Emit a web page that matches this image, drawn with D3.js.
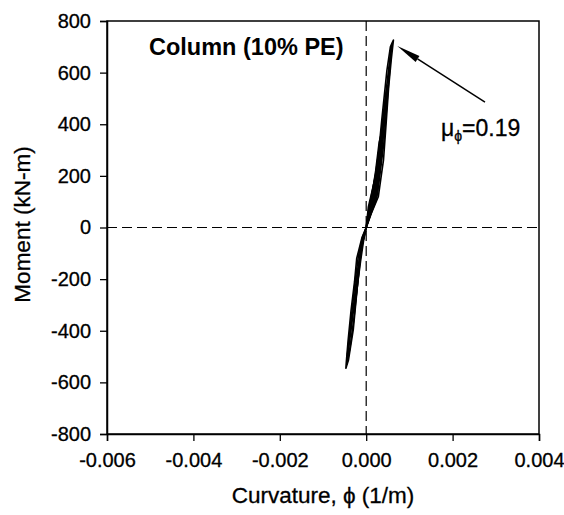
<!DOCTYPE html>
<html>
<head>
<meta charset="utf-8">
<script src="https://cdn.jsdelivr.net/npm/d3@7"></script>
<style>
  body { margin: 0; background: #fff; }
  svg { font-family: "Liberation Sans", Arial, sans-serif; }
</style>
</head>
<body>
<svg id="chart" width="564" height="515"></svg>
<script>
// axis ticks
const curvTicks = [-0.006, -0.004, -0.002, 0.000, 0.002, 0.004];
const momentTicks = [-800, -600, -400, -200, 0, 200, 400, 600, 800];

// hysteresis cycles: [curvature (1/m), moment (kN-m)]
const cycle1 = [
  [0, 0], [0.00008, 40], [0.00020, 100], [0.00028, 180], [0.00032, 260], [0.00036, 370],
  [0.00030, 330], [0.00022, 220], [0.00012, 110], [0.00004, 30], [0, 0],
  [-0.00006, -40], [-0.00014, -110], [-0.00020, -190], [-0.00026, -290], [-0.00030, -330],
  [-0.00026, -300], [-0.00020, -220], [-0.00013, -130], [-0.00006, -50], [0, 0]
];
const cycle2 = [
  [0, 0], [0.00010, 50], [0.00024, 110], [0.00030, 200], [0.00038, 320], [0.00044, 440], [0.00050, 550],
  [0.00046, 520], [0.00038, 400], [0.00028, 260], [0.00020, 170], [0.00008, 70], [0, 0],
  [-0.00010, -70], [-0.00018, -160], [-0.00026, -270], [-0.00033, -370], [-0.00040, -460], [-0.00043, -490],
  [-0.00041, -470], [-0.00036, -400], [-0.00029, -300], [-0.00022, -190], [-0.00014, -100], [-0.00005, -30], [0, 0]
];
const cycle3 = [
  [0, 0], [0.00012, 55], [0.00028, 119], [0.00034, 190], [0.00040, 261], [0.00046, 400], [0.00052, 545],
  [0.00058, 650], [0.00063, 726], [0.00060, 715], [0.00056, 700], [0.00048, 610], [0.00036, 416],
  [0.00025, 223], [0.00005, 80], [0, 0],
  [-0.00012, -74], [-0.00019, -203], [-0.00030, -397], [-0.00041, -513], [-0.00047, -545],
  [-0.00046, -520], [-0.00042, -440], [-0.00035, -320], [-0.00027, -210], [-0.00022, -120], [-0.00010, -40], [0, 0]
];
const cycle4 = [
  [0, 0], [0.00010, 60], [0.00026, 130], [0.00033, 220], [0.00041, 330], [0.00048, 480], [0.00054, 600],
  [0.00059, 705], [0.00057, 690], [0.00051, 600], [0.00042, 470], [0.00032, 330], [0.00022, 210], [0.00006, 70], [0, 0],
  [-0.00011, -80], [-0.00020, -220], [-0.00029, -360], [-0.00038, -470], [-0.00045, -530],
  [-0.00044, -500], [-0.00039, -420], [-0.00032, -310], [-0.00025, -200], [-0.00018, -110], [-0.00008, -35], [0, 0]
];
const filledCycles = [cycle1, cycle2];
const outlineCycles = [cycle1, cycle2, cycle3, cycle4];

// annotation arrow: [curvature, moment] tail and tip
const arrowTail = [0.00275, 486];
const arrowTip = [0.00072, 703];

const svg = d3.select("#chart");
const plotLeft = 107, plotRight = 539, plotTop = 21, plotBottom = 434;

const x = d3.scaleLinear().domain([-0.006, 0.004]).range([plotLeft, plotRight]);
const y = d3.scaleLinear().domain([-800, 800]).range([plotBottom, plotTop]);

const hyphen = s => s.replace("\u2212", "-");

// frame (top and right)
svg.append("rect")
  .attr("x", plotLeft).attr("y", plotTop)
  .attr("width", plotRight - plotLeft).attr("height", plotBottom - plotTop)
  .attr("fill", "none").attr("stroke", "#000").attr("stroke-width", 1.5);

// zero lines
svg.append("line")
  .attr("x1", plotLeft).attr("x2", plotRight).attr("y1", y(0)).attr("y2", y(0))
  .attr("stroke", "#000").attr("stroke-width", 1.2).attr("stroke-dasharray", "10,5");
svg.append("line")
  .attr("x1", x(0)).attr("x2", x(0)).attr("y1", plotTop).attr("y2", plotBottom)
  .attr("stroke", "#000").attr("stroke-width", 1.2).attr("stroke-dasharray", "10,5");

// x axis
svg.append("g")
  .attr("transform", "translate(0," + plotBottom + ")")
  .call(d3.axisBottom(x).tickValues(curvTicks).tickSize(7).tickPadding(12)
    .tickFormat(d => hyphen(d3.format(".3f")(d))))
  .call(g => g.select(".domain").attr("stroke-width", 1.5))
  .call(g => g.selectAll(".tick line").attr("stroke-width", 1.3))
  .selectAll("text")
  .attr("font-size", 20).attr("font-family", "Liberation Sans, Arial, sans-serif")
  .attr("fill", "#000").attr("stroke", "#000").attr("stroke-width", 0.3);

// y axis
svg.append("g")
  .attr("transform", "translate(" + plotLeft + ",0)")
  .call(d3.axisLeft(y).tickValues(momentTicks).tickSize(7).tickPadding(9)
    .tickFormat(d => hyphen(d3.format("d")(d))))
  .call(g => g.select(".domain").attr("stroke-width", 1.5))
  .call(g => g.selectAll(".tick line").attr("stroke-width", 1.3))
  .selectAll("text")
  .attr("font-size", 20).attr("font-family", "Liberation Sans, Arial, sans-serif")
  .attr("fill", "#000").attr("stroke", "#000").attr("stroke-width", 0.3);

// axis titles
svg.append("text")
  .attr("x", (plotLeft + plotRight) / 2).attr("y", 503)
  .attr("text-anchor", "middle").attr("font-size", 22.5)
  .attr("stroke", "#000").attr("stroke-width", 0.3)
  .text("Curvature, \u03d5 (1/m)");

svg.append("text")
  .attr("transform", "translate(30," + ((plotTop + plotBottom) / 2 - 3) + ")rotate(-90)")
  .attr("text-anchor", "middle").attr("font-size", 22.5)
  .attr("stroke", "#000").attr("stroke-width", 0.3)
  .text("Moment (kN-m)");

// hysteresis loops
const line = d3.line().x(d => x(d[0])).y(d => y(d[1]));

svg.selectAll(".fillLoop")
  .data(filledCycles)
  .enter()
  .append("path")
  .attr("d", line)
  .attr("fill", "#000").attr("stroke", "none");

svg.selectAll(".loop")
  .data(outlineCycles)
  .enter()
  .append("path")
  .attr("d", line)
  .attr("fill", "none").attr("stroke", "#000").attr("stroke-width", 1.6)
  .attr("stroke-linejoin", "round");

// chart label
svg.append("text")
  .attr("x", 149).attr("y", 55)
  .attr("font-size", 23.5).attr("font-weight", "bold")
  .text("Column (10% PE)");

// arrow with annotation
const tx = x(arrowTail[0]), ty = y(arrowTail[1]);
const hx = x(arrowTip[0]), hy = y(arrowTip[1]);
const ang = Math.atan2(hy - ty, hx - tx);
const headLen = 24, headW = 3.5;
const bx = hx - headLen * Math.cos(ang), by = hy - headLen * Math.sin(ang);

svg.append("line")
  .attr("x1", tx).attr("y1", ty).attr("x2", bx).attr("y2", by)
  .attr("stroke", "#000").attr("stroke-width", 1.5);

svg.append("path")
  .attr("d", "M" + hx + "," + hy +
    "L" + (bx + headW * Math.sin(ang)) + "," + (by - headW * Math.cos(ang)) +
    "L" + (bx - headW * Math.sin(ang)) + "," + (by + headW * Math.cos(ang)) + "Z")
  .attr("fill", "#000");

const ann = svg.append("text")
  .attr("x", 441).attr("y", 136)
  .attr("font-size", 23)
  .attr("stroke", "#000").attr("stroke-width", 0.3);
ann.append("tspan").text("\u03bc");
ann.append("tspan").attr("font-size", 14).attr("dy", 5).text("\u03d5");
ann.append("tspan").attr("dy", -5).text("=0.19");
</script>
</body>
</html>
